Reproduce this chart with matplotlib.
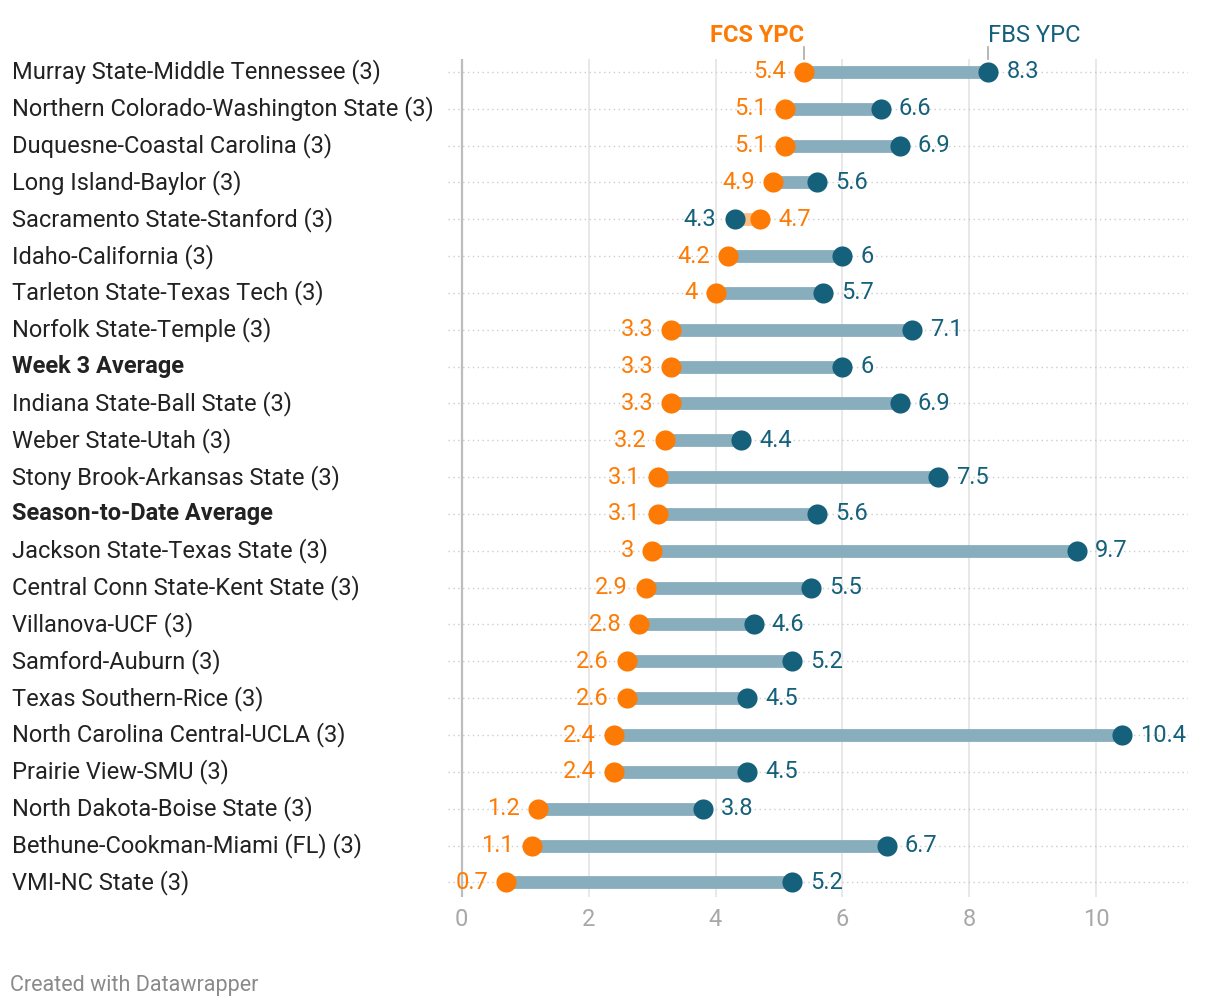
import matplotlib.pyplot as plt
import matplotlib.transforms as mtransforms

plt.rcParams['font.family'] = ['Roboto', 'DejaVu Sans']

# data
teams = [
    "Murray State-Middle Tennessee (3)",
    "Northern Colorado-Washington State (3)",
    "Duquesne-Coastal Carolina (3)",
    "Long Island-Baylor (3)",
    "Sacramento State-Stanford (3)",
    "Idaho-California (3)",
    "Tarleton State-Texas Tech (3)",
    "Norfolk State-Temple (3)",
    "Week 3 Average",
    "Indiana State-Ball State (3)",
    "Weber State-Utah (3)",
    "Stony Brook-Arkansas State (3)",
    "Season-to-Date Average",
    "Jackson State-Texas State (3)",
    "Central Conn State-Kent State (3)",
    "Villanova-UCF (3)",
    "Samford-Auburn (3)",
    "Texas Southern-Rice (3)",
    "North Carolina Central-UCLA (3)",
    "Prairie View-SMU (3)",
    "North Dakota-Boise State (3)",
    "Bethune-Cookman-Miami (FL) (3)",
    "VMI-NC State (3)",
]
fcs_ypc = [5.4, 5.1, 5.1, 4.9, 4.7, 4.2, 4, 3.3, 3.3, 3.3, 3.2, 3.1, 3.1,
           3, 2.9, 2.8, 2.6, 2.6, 2.4, 2.4, 1.2, 1.1, 0.7]
fbs_ypc = [8.3, 6.6, 6.9, 5.6, 4.3, 6, 5.7, 7.1, 6, 6.9, 4.4, 7.5, 5.6,
           9.7, 5.5, 4.6, 5.2, 4.5, 10.4, 4.5, 3.8, 6.7, 5.2]
bold_rows = ["Week 3 Average", "Season-to-Date Average"]
x_ticks = [0, 2, 4, 6, 8, 10]

ORANGE = "#fd7b05"
TEAL = "#15607a"
BAR_TEAL = "#88adbc"
BAR_ORANGE = "#fcbd85"
FS = 17

fig = plt.figure(figsize=(12.2, 10.08), dpi=100)
ax = fig.add_axes([0.367, 0.110, 0.607, 0.8315])

n = len(teams)
ax.set_xlim(-0.22, 11.45)
ax.set_ylim(n - 1 + 0.4, -0.35)

# grid
for t in x_ticks:
    ax.axvline(t, color="#bdbdbd" if t == 0 else "#e2e2e2",
               lw=1.6 if t == 0 else 1.1, zorder=0)
for i in range(n):
    ax.axhline(i, color="#cccccc", lw=1.0, ls=(0, (1, 2.5)), zorder=0)

fmt = lambda v: ("%g" % v)
for i, (a, b) in enumerate(zip(fcs_ypc, fbs_ypc)):
    bar_col = BAR_TEAL if b >= a else BAR_ORANGE
    ax.plot([a, b], [i, i], color=bar_col, lw=9.2, solid_capstyle="butt",
            zorder=2)
    ax.plot(a, i, "o", color=ORANGE, ms=14.5, mec="none", zorder=3)
    ax.plot(b, i, "o", color=TEAL, ms=14.5, mec="none", zorder=3)
    lo, hi = (a, b) if a <= b else (b, a)
    lo_col, hi_col = (ORANGE, TEAL) if a <= b else (TEAL, ORANGE)
    ax.annotate(fmt(lo), (lo, i), xytext=(-13, 0), textcoords="offset points",
                ha="right", va="center", color=lo_col, fontsize=FS)
    ax.annotate(fmt(hi), (hi, i), xytext=(13, 0), textcoords="offset points",
                ha="left", va="center", color=hi_col, fontsize=FS)

# row labels: figure x, data y
trans = mtransforms.blended_transform_factory(fig.transFigure, ax.transData)
for i, name in enumerate(teams):
    fig.text(12 / 1220, i, name, transform=trans, fontsize=FS,
             color="#222222", ha="left", va="center",
             fontweight="bold" if name in bold_rows else "normal")

# series headers
ax.plot([fcs_ypc[0], fcs_ypc[0]], [-0.35, -0.68], color="#aaaaaa", lw=1.2,
        clip_on=False)
ax.plot([fbs_ypc[0], fbs_ypc[0]], [-0.35, -0.68], color="#aaaaaa", lw=1.2,
        clip_on=False)
ax.text(fcs_ypc[0], -1.0, "FCS YPC", color=ORANGE, fontsize=FS,
        fontweight="bold", ha="right", va="center")
ax.text(fbs_ypc[0], -1.0, "FBS YPC", color=TEAL, fontsize=FS,
        ha="left", va="center")

ax.set_xticks(x_ticks)
ax.set_xticklabels([str(t) for t in x_ticks], color="#a8a8a8", fontsize=FS)
ax.tick_params(axis="x", length=0, pad=8)
ax.set_yticks([])
for s in ax.spines.values():
    s.set_visible(False)

fig.text(10 / 1220, 1 - 985 / 1008, "Created with Datawrapper",
         color="#8a8a8a", fontsize=15.5, ha="left", va="center")

fig.savefig("out.png", dpi=100, facecolor="white")
